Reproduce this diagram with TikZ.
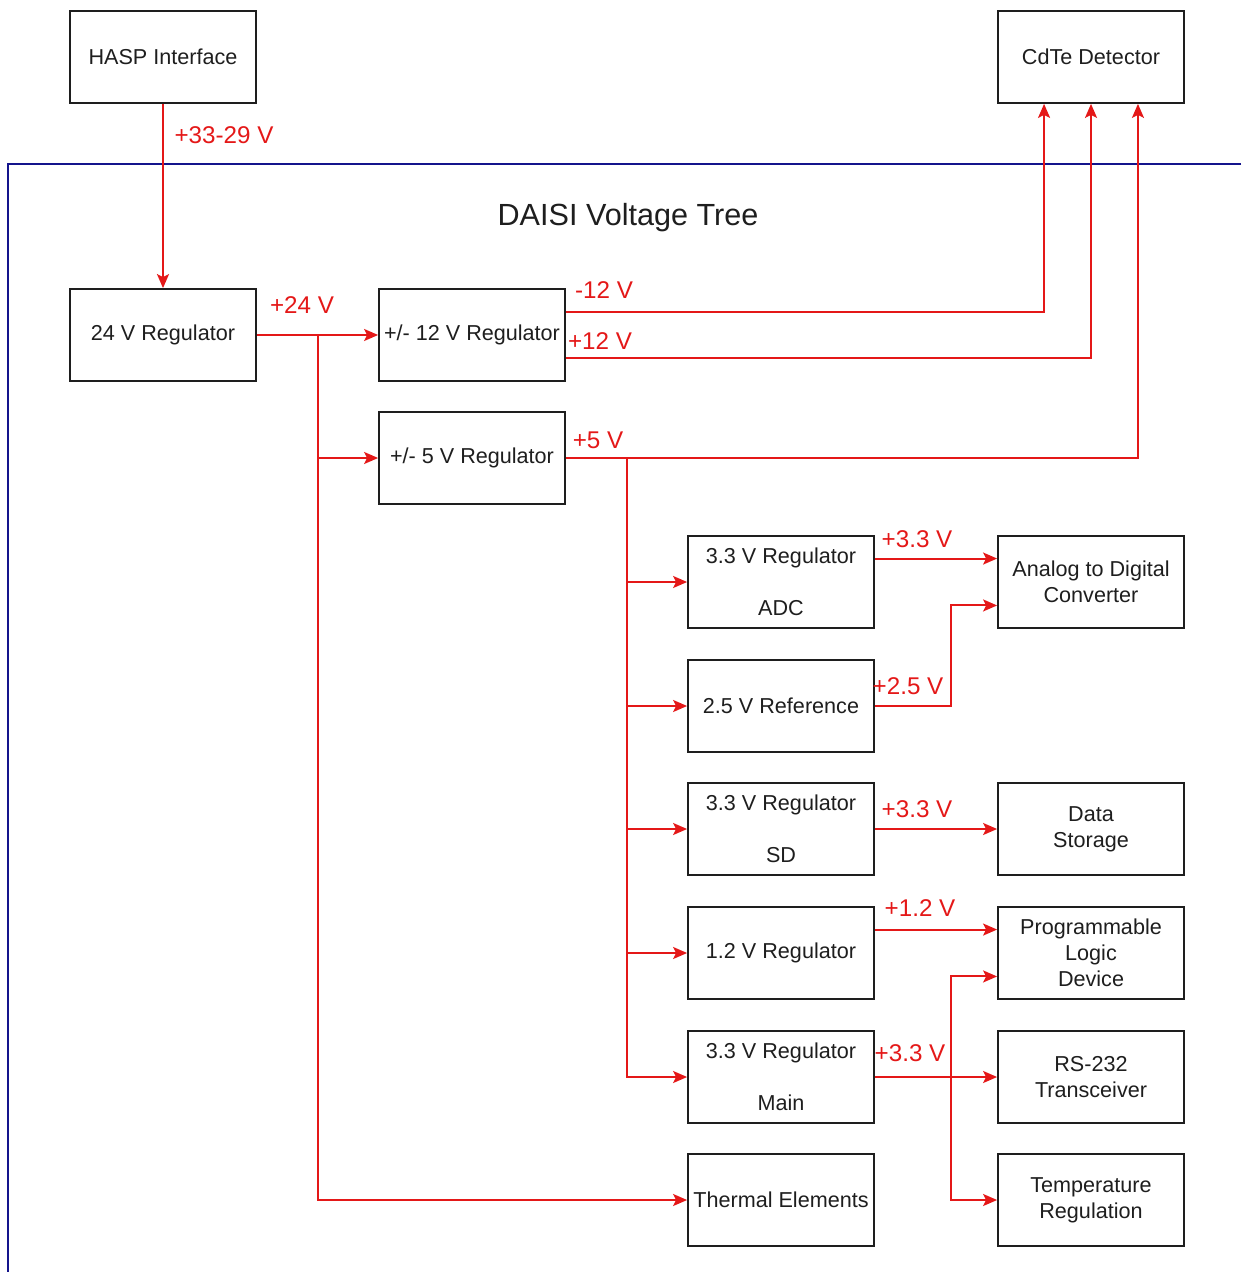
\documentclass[tikz,border=0pt]{standalone}
\usepackage{fontspec}
\setmainfont{Liberation Sans}
\usetikzlibrary{calc,arrows.meta}
\definecolor{wire}{RGB}{228,24,24}
\definecolor{frame}{RGB}{20,20,140}
\definecolor{ink}{RGB}{30,30,30}
\tikzset{
  blk/.style={draw=ink,line width=0.9pt,rectangle,minimum width=93pt,minimum height=46pt,inner sep=0pt,align=center,text=ink,font=\fontsize{10.8}{13}\selectfont},
  arr/.style={draw=wire,line width=1pt,-{Stealth[length=7pt,width=6pt,inset=1.5pt]}},
  vl/.style={text=wire,font=\fontsize{12.1}{14}\selectfont,inner sep=0pt}
}
\begin{document}
\begin{tikzpicture}[x=0.5pt,y=-0.5pt]
\useasboundingbox (0,0) rectangle (1241,1272);
% frame
\draw[frame,line width=0.7pt] (1241,164) -- (8,164) -- (8,1272);
\node[text=ink,font=\fontsize{15.3}{18}\selectfont] (title) at (628,218) {DAISI Voltage Tree};
% blocks
\node[blk] (hasp) at (163,57) {HASP Interface};
\node[blk] (cdte) at (1091,57) {CdTe Detector};
\node[blk] (r24) at (163,335) {24 V Regulator};
\node[blk] (r12) at (472,335) {+/- 12 V Regulator};
\node[blk] (r5) at (472,458) {+/- 5 V Regulator};
\node[blk] (radc) at (781,582) {3.3 V Regulator\\[13pt]ADC};
\node[blk] (ref) at (781,706) {2.5 V Reference};
\node[blk] (rsd) at (781,829) {3.3 V Regulator\\[13pt]SD};
\node[blk] (r12v) at (781,953) {1.2 V Regulator};
\node[blk] (rmain) at (781,1077) {3.3 V Regulator\\[13pt]Main};
\node[blk] (therm) at (781,1200) {Thermal Elements};
\node[blk] (adc) at (1091,582) {Analog to Digital\\Converter};
\node[blk] (ds) at (1091,829) {Data\\Storage};
\node[blk] (pld) at (1091,953) {Programmable\\Logic\\Device};
\node[blk] (rs) at (1091,1077) {RS-232\\Transceiver};
\node[blk] (temp) at (1091,1200) {Temperature\\Regulation};
% helper coordinates
\coordinate (m12) at ($(r12.north east)!0.25!(r12.south east)$);
\coordinate (p12) at ($(r12.north east)!0.75!(r12.south east)$);
\coordinate (cA) at ($(cdte.south west)!0.25!(cdte.south east)$);
\coordinate (cB) at ($(cdte.south west)!0.5!(cdte.south east)$);
\coordinate (cC) at ($(cdte.south west)!0.75!(cdte.south east)$);
\coordinate (adcA) at ($(adc.north west)!0.25!(adc.south west)$);
\coordinate (adcB) at ($(adc.north west)!0.75!(adc.south west)$);
\coordinate (pldA) at ($(pld.north west)!0.25!(pld.south west)$);
\coordinate (pldB) at ($(pld.north west)!0.75!(pld.south west)$);
\coordinate (b24) at (318,335);
\coordinate (b5) at (627,458);
\coordinate (bx) at (951,0);
\coordinate (b33) at (951,1077);
% connectors
\draw[arr] (hasp.south) -- (r24.north);
\node[vl] (l1) at (224,135) {+33-29 V};
\draw[arr] (r24.east) -- (r12.west);
\node[vl] (l2) at (302,305) {+24 V};
\draw[arr] (b24) |- (r5.west);
\draw[arr] (b24) |- (therm.west);
\draw[arr] (m12) -| (cA);
\node[vl] (l3) at (604,290) {-12 V};
\draw[arr] (p12) -| (cB);
\node[vl] (l4) at (600,341) {+12 V};
\draw[arr] (r5.east) -| (cC);
\node[vl] (l5) at (598,440) {+5 V};
\draw[arr] (b5) |- (radc.west);
\draw[arr] (b5) |- (ref.west);
\draw[arr] (b5) |- (rsd.west);
\draw[arr] (b5) |- (r12v.west);
\draw[arr] (b5) |- (rmain.west);
\draw[arr] (radc.east |- adcA) -- (adcA);
\node[vl] (l6) at (917,539) {+3.3 V};
\draw[arr] (ref.east) -- (ref.east -| bx) |- (adcB);
\node[vl] (l7) at (908,686) {+2.5 V};
\draw[arr] (rsd.east) -- (ds.west);
\node[vl] (l8) at (917,809) {+3.3 V};
\draw[arr] (r12v.east |- pldA) -- (pldA);
\node[vl] (l9) at (920,908) {+1.2 V};
\draw[arr] (rmain.east) -- (rs.west);
\node[vl] (l10) at (910,1053) {+3.3 V};
\draw[arr] (b33) |- (pldB);
\draw[arr] (b33) |- (temp.west);
\end{tikzpicture}
\end{document}
